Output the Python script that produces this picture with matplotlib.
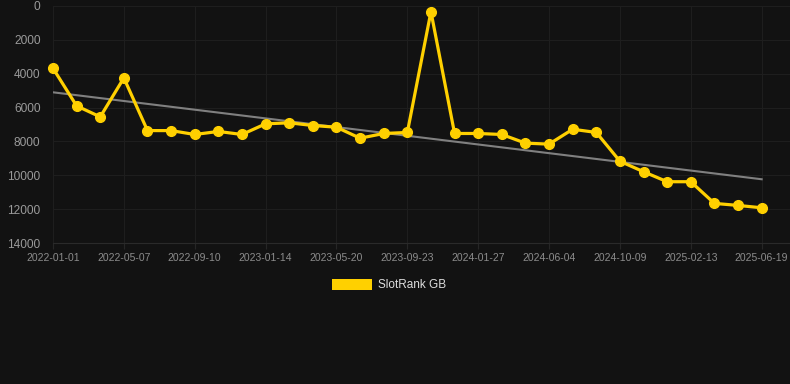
import matplotlib.pyplot as plt
import numpy as np
from matplotlib.patches import Rectangle

# data
series_name = "SlotRank GB"
tick_labels = ["2022-01-01", "2022-05-07", "2022-09-10", "2023-01-14", "2023-05-20",
               "2023-09-23", "2024-01-27", "2024-06-04", "2024-10-09", "2025-02-13",
               "2025-06-19"]
ranks = [3680, 5900, 6550, 4250, 7360, 7360, 7590, 7410, 7590,
         6960, 6900, 7060, 7160, 7810, 7530, 7470, 335, 7530, 7530, 7590, 8100,
         8160, 7280, 7470, 9170, 9790, 10380, 10380, 11660, 11780, 11920]
y_ticks = [0, 2000, 4000, 6000, 8000, 10000, 12000, 14000]

BG = "#121212"
GRID = "#1e1e1e"
GOLD = "#FFD000"

plt.rcParams['font.family'] = ['Liberation Sans', 'DejaVu Sans']

fig = plt.figure(figsize=(7.9, 3.84), dpi=100, facecolor=BG)
W, H = 790, 384
left, right = 53 / W, 1.0
bottom, top = 1 - 243 / H, 1 - 6 / H
ax = fig.add_axes([left, bottom, right - left, top - bottom])
ax.set_facecolor(BG)

x = np.arange(len(ranks))

# linear trend
k, b = np.polyfit(x, ranks, 1)
ax.plot(x, k * x + b, color="#808080", linewidth=1.5, zorder=2)

ax.plot(x, ranks, color=GOLD, linewidth=2.3, marker="o", markersize=7,
        zorder=3, clip_on=False)

ax.set_xlim(0, 31.2)
ax.set_ylim(14000, 0)

ax.set_xticks(x[::3])
ax.set_xticklabels(tick_labels, fontsize=7.5, color="#8c8c8c")
ax.set_yticks(y_ticks)
ax.set_yticklabels([str(v) for v in y_ticks], fontsize=8.6, color="#9a9a9a")

ax.tick_params(axis="x", length=4, color="#262626", pad=3)
ax.tick_params(axis="y", length=0, pad=9)
ax.grid(True, color=GRID, linewidth=0.8)
ax.set_axisbelow(True)
for s in ax.spines.values():
    s.set_visible(False)
ax.spines["bottom"].set_visible(True)
ax.spines["bottom"].set_color("#2a2a2a")
ax.spines["bottom"].set_linewidth(0.8)

# legend drawn by hand
fig.add_artist(Rectangle((332 / W, 1 - 290 / H), 40 / W, 11 / H,
                         transform=fig.transFigure, facecolor=GOLD, edgecolor="none"))
fig.text(378 / W, 1 - 284.5 / H, series_name, color="#dddddd", fontsize=8.5,
         va="center", ha="left")

fig.savefig("out.png", dpi=100, facecolor=BG)
